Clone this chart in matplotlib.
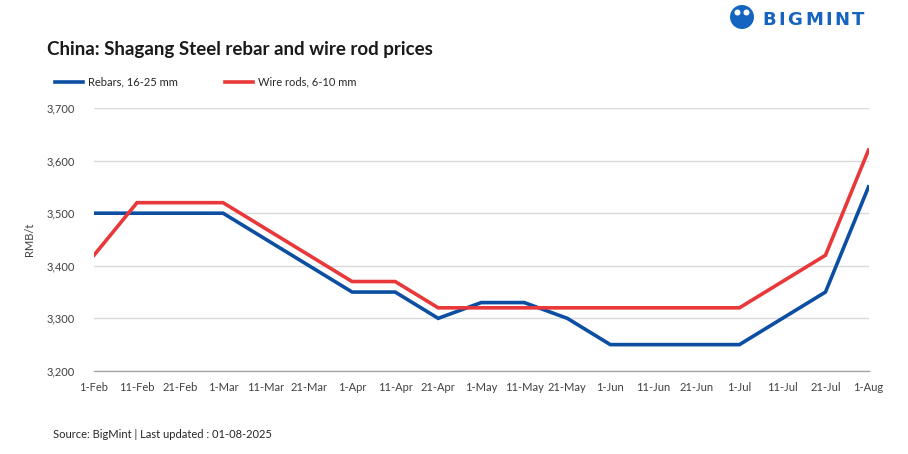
import matplotlib.pyplot as plt
from matplotlib.patches import Circle

plt.rcParams['font.family'] = ['Lato', 'DejaVu Sans']

dates = ['1-Feb', '11-Feb', '21-Feb', '1-Mar', '11-Mar', '21-Mar', '1-Apr', '11-Apr',
         '21-Apr', '1-May', '11-May', '21-May', '1-Jun', '11-Jun', '21-Jun', '1-Jul',
         '11-Jul', '21-Jul', '1-Aug']
rebar = [3500, 3500, 3500, 3500, 3450, 3400, 3350, 3350, 3300, 3330, 3330, 3300,
         3250, 3250, 3250, 3250, 3300, 3350, 3550]
wire_rod = [3420, 3520, 3520, 3520, 3470, 3420, 3370, 3370, 3320, 3320, 3320, 3320,
            3320, 3320, 3320, 3320, 3370, 3420, 3620]
yticks = [3200, 3300, 3400, 3500, 3600, 3700]

blue = '#0B4EA2'
red = '#E8383A'
logo_blue = '#1565C0'

fig = plt.figure(figsize=(9.08, 4.54), dpi=100)
ax = fig.add_axes([0.1035, 0.183, 0.853, 0.579])

x = list(range(len(dates)))
ax.plot(x, rebar, color=blue, lw=2.6, solid_joinstyle='miter', label='Rebars, 16-25 mm')
ax.plot(x, wire_rod, color=red, lw=2.6, solid_joinstyle='miter', label='Wire rods, 6-10 mm')

ax.set_xlim(0, len(dates) - 1)
ax.set_ylim(3200, 3700)
ax.set_yticks(yticks)
ax.set_yticklabels([f'{v:,}' for v in yticks])
ax.set_xticks(x)
ax.set_xticklabels(dates)
ax.tick_params(axis='both', length=0, labelsize=8, colors='#404040')
ax.tick_params(axis='y', pad=14)
ax.tick_params(axis='x', pad=8)
ax.grid(axis='y', color='#D9D9D9', lw=1)
ax.set_axisbelow(True)
for s in ['top', 'right', 'left']:
    ax.spines[s].set_visible(False)
ax.spines['bottom'].set_color('#A6A6A6')
ax.spines['bottom'].set_linewidth(1)
ax.set_ylabel('RMB/t', fontsize=8, color='#404040', labelpad=8)

fig.text(47 / 908, 1 - 49 / 454, 'China: Shagang Steel rebar and wire rod prices',
         fontsize=13.5, fontweight='bold', color='#1a1a1a', va='center')

fig.legend(loc='center left', bbox_to_anchor=(55 / 908, 1 - 82 / 454), ncol=2, frameon=False,
           fontsize=8, handlelength=2.5, handletextpad=0.45, columnspacing=4.3,
           labelcolor='#262626', borderaxespad=0, borderpad=0)

fig.text(53 / 908, 1 - 434 / 454, 'Source: BigMint | Last updated : 01-08-2025',
         fontsize=8, color='#262626', va='center')

# logo: round icon plus letter-spaced wordmark (positions in inches, 100 px each)
inch = fig.dpi_scale_trans
fig.patches.append(Circle((7.42, 4.54 - 0.17), 0.12, transform=inch,
                          facecolor=logo_blue, edgecolor='none'))
for cx in (7.375, 7.465):
    fig.patches.append(Circle((cx, 4.54 - 0.125), 0.03, transform=inch,
                              facecolor='white', edgecolor='none'))
renderer = fig.canvas.get_renderer()
xpos = 762
for ch in 'BIGMINT':
    t = fig.text(xpos / 908, 1 - 20 / 454, ch, fontsize=13, fontweight='heavy',
                 color=logo_blue, va='center', ha='left', family='DejaVu Sans')
    xpos += t.get_window_extent(renderer).width + 2.6

fig.savefig('out.png', dpi=100)
